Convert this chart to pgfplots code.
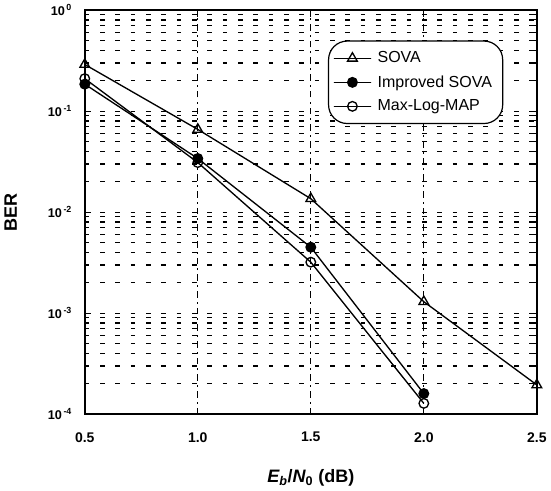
\documentclass[border=0pt]{standalone}
\usepackage{fontspec}
\setmainfont{Liberation Sans}
\usepackage{pgfplots}
\pgfplotsset{compat=1.18}
\usetikzlibrary{plotmarks}

\begin{document}
\begin{tikzpicture}
\begin{axis}[
  width=339pt, height=303pt, scale only axis,
  ymode=log, xmin=0.5, xmax=2.5, ymin=1e-4, ymax=1,
  xtick={0.5,1.0,1.5,2.0,2.5},
  xticklabels={0.5,1.0,1.5,2.0,2.5},
  ytick={1e-4,1e-3,1e-2,1e-1,1},
  yticklabels={10\textsuperscript{\,-4},10\textsuperscript{\,-3},10\textsuperscript{\,-2},10\textsuperscript{\,-1},10\textsuperscript{\,0}},
  xticklabel style={font=\bfseries\fontsize{10.5}{12}\selectfont, yshift=-10pt},
  yticklabel style={font=\bfseries\fontsize{9.5}{11}\selectfont, xshift=-6pt},
  tick align=inside,
  major tick length=5pt, minor tick length=3pt,
  axis line style={line width=1.2pt},
  every tick/.style={black, line width=0.8pt},
  ymajorgrids, yminorgrids, xmajorgrids,
  major y grid style={black, line width=0.9pt, dash pattern=on 3.5pt off 8pt},
  minor y grid style={black, line width=0.9pt, dash pattern=on 3.5pt off 8pt},
  major x grid style={black, line width=0.9pt, dash pattern=on 5pt off 3pt on 1.5pt off 3pt},
  xlabel={{\itshape E}\textsubscript{\itshape b}/{\itshape N}\textsubscript{0} (dB)},
  ylabel={BER},
  xlabel style={font=\bfseries\fontsize{13.5}{16}\selectfont, at={(axis description cs:0.5,-0.158)}, anchor=center},
  ylabel style={font=\bfseries\fontsize{13.5}{16}\selectfont, at={(axis description cs:-0.164,0.5)}, anchor=center},
  legend style={at={(0.538,0.925)}, anchor=north west, draw=black, line width=0.9pt,
    rounded corners=14pt, font=\fontsize{12}{14}\selectfont,
    inner xsep=6pt, inner ysep=6pt, row sep=4pt,
    cells={anchor=west},
    /tikz/every odd column/.append style={column sep=5pt}},
  legend image code/.code={\draw[mark repeat=2,mark phase=2] plot coordinates {(0cm,0cm) (0.4cm,0cm) (0.8cm,0cm)};},
]
\addplot[black, line width=1pt, mark=triangle, mark size=4.2pt, mark options={solid, line width=1pt, fill=white}]
  coordinates {(0.5,0.29) (1.0,0.066) (1.5,0.0136) (2.0,0.0013) (2.5,0.000195)};
\addlegendentry{SOVA}
\addplot[black, line width=1pt, mark=*, mark size=3.6pt, mark options={solid, fill=black}]
  coordinates {(0.5,0.185) (1.0,0.034) (1.5,0.0045) (2.0,0.00016)};
\addlegendentry{Improved SOVA}
\addplot[black, line width=1pt, mark=o, mark size=3.6pt, mark options={solid, line width=1pt, fill=white}]
  coordinates {(0.5,0.21) (1.0,0.031) (1.5,0.0032) (2.0,0.000128)};
\addlegendentry{Max-Log-MAP}
\end{axis}
\end{tikzpicture}
\end{document}
